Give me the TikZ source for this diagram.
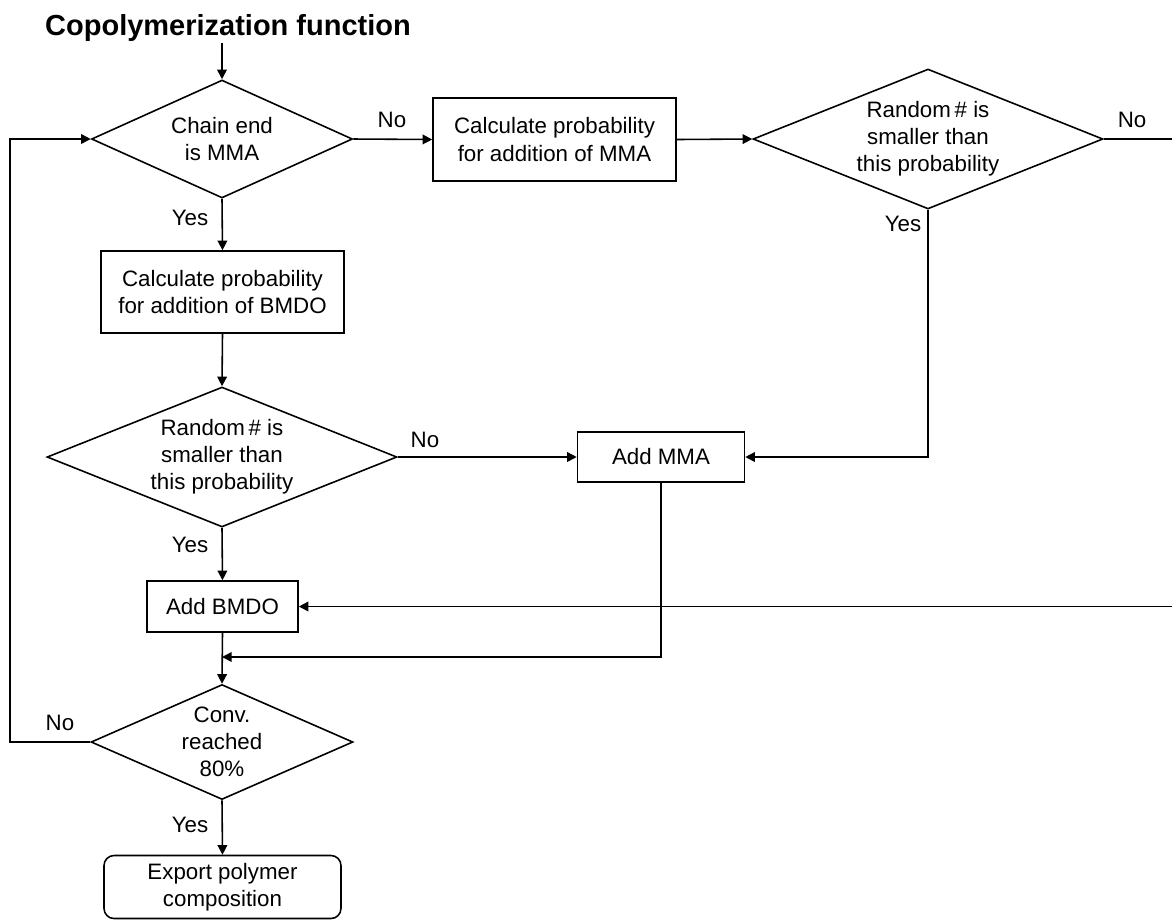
\documentclass[tikz,border=0pt]{standalone}
\usepackage{fontspec}
\setmainfont{Liberation Sans}
\usetikzlibrary{arrows.meta, shapes.geometric}

\begin{document}
\begin{tikzpicture}[x=0.02cm, y=-0.02cm, >={Triangle[length=5.5pt, width=5.5pt]},
    line width=0.9pt,
    every node/.style={font=\fontsize{12.7}{15.4}\selectfont, align=center},
    box/.style={draw, rectangle, inner sep=0pt},
    decision/.style={draw, diamond, inner sep=-4pt},
    lbl/.style={inner sep=0pt}]
  \useasboundingbox (0,0) rectangle (1172,921);

  % Title
  \node[font=\fontsize{16.5}{20}\selectfont\bfseries, anchor=base] (title) at (228,35)
    {Copolymerization function};
  \coordinate (entry) at (222,43);

  % Decisions
  \node[decision, aspect=2.2, minimum width=5.22cm, minimum height=2.36cm] (chain) at (222,139)
    {Chain end\\is MMA};
  \node[decision, aspect=2.5, minimum width=7cm, minimum height=2.8cm] (randa) at (928,139)
    {Random\,\# is\\smaller than\\this probability};
  \node[decision, aspect=2.5, minimum width=7cm, minimum height=2.8cm] (randb) at (222,457)
    {Random\,\# is\\smaller than\\this probability};
  \node[decision, aspect=2.3, minimum width=5.24cm, minimum height=2.3cm] (conv) at (222,742)
    {Conv.\\reached\\80\%};

  % Process boxes
  \node[box, minimum width=4.86cm, minimum height=1.66cm] (calcmma) at (554.5,139.5)
    {Calculate probability\\for addition of MMA};
  \node[box, minimum width=4.86cm, minimum height=1.64cm] (calcbmdo) at (222.5,292)
    {Calculate probability\\for addition of BMDO};
  \node[box, minimum width=3.34cm, minimum height=1cm] (addmma) at (661,457) {Add MMA};
  \node[box, minimum width=3.02cm, minimum height=1.02cm] (addbmdo) at (222.5,606.5) {Add BMDO};
  \node[box, rounded corners=0.2cm, minimum width=4.74cm, minimum height=1.26cm] (export)
    at (222.5,887) {Export polymer\\composition};

  % Turning points of the long connectors
  \coordinate (redge) at (1175,0);
  \coordinate (ledge) at (10,0);
  \coordinate (merge) at (222,657);

  % Connectors
  \draw[->] (entry) -- (chain.north);
  \draw[->] (chain.east) -- (calcmma.west);
  \draw[->] (calcmma.east) -- (randa.west);
  \draw[->] (randa.east) -- (randa.east -| redge) |- (addbmdo.east);
  \draw[->] (randa.south) |- (addmma.east);
  \draw[->] (chain.south) -- (calcbmdo.north);
  \draw[->] (calcbmdo.south) -- (randb.north);
  \draw[->] (randb.east) -- (addmma.west);
  \draw[->] (randb.south) -- (addbmdo.north);
  \draw[->] (addbmdo.south) -- (conv.north);
  \draw[->] (addmma.south) |- (merge);
  \draw[->] (conv.west) -- (conv.west -| ledge) |- (chain.west);
  \draw[->] (conv.south) -- (export.north);

  % Branch labels
  \node[lbl] (chainno) at (392,120) {No};
  \node[lbl] (chainyes) at (190,218) {Yes};
  \node[lbl] (randano) at (1132,120) {No};
  \node[lbl] (randayes) at (903,224) {Yes};
  \node[lbl] (randbno) at (425,440) {No};
  \node[lbl] (randbyes) at (190,545) {Yes};
  \node[lbl] (convno) at (60,723) {No};
  \node[lbl] (convyes) at (190,825) {Yes};
\end{tikzpicture}
\end{document}
